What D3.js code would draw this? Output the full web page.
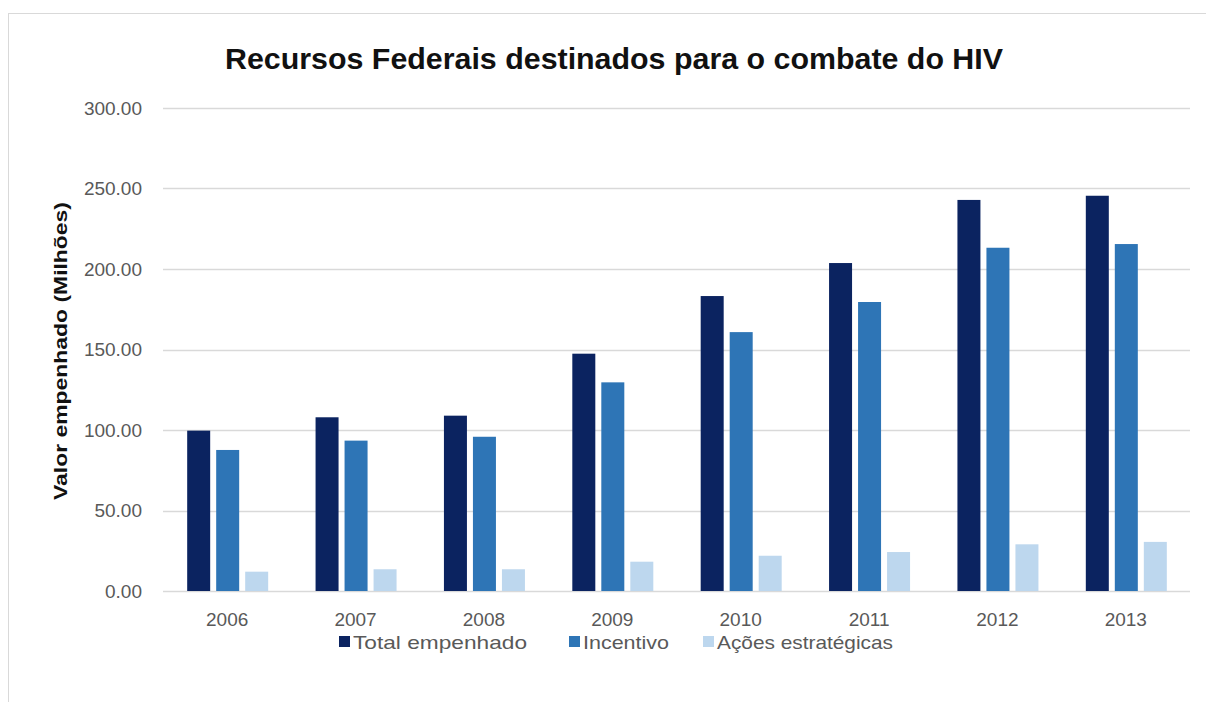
<!DOCTYPE html>
<html>
<head>
<meta charset="utf-8">
<script src="https://cdn.jsdelivr.net/npm/d3@7"></script>
<style>
  body { margin: 0; background: #fff; }
  svg { display: block; font-family: "Liberation Sans", Arial, sans-serif; }
</style>
</head>
<body>
<div id="chart"></div>
<script>
const years = ["2006", "2007", "2008", "2009", "2010", "2011", "2012", "2013"];
const seriesNames = ["Total empenhado", "Incentivo", "Ações estratégicas"];
const totalEmpenhado = [99.6, 107.9, 108.9, 147.4, 183.2, 203.7, 242.9, 245.5];
const incentivo = [87.6, 93.4, 95.8, 129.6, 160.8, 179.5, 213.2, 215.5];
const acoesEstrategicas = [12.0, 13.5, 13.5, 18.2, 21.9, 24.2, 29.0, 30.5];
const yTicks = [0, 50, 100, 150, 200, 250, 300];
const colors = ["#0b2360", "#2e75b6", "#bdd7ee"];

const W = 1206, H = 702;
const margin = {top: 108, right: 16, bottom: 111, left: 163},
      width = W - margin.left - margin.right,
      height = H - margin.top - margin.bottom;

const data = years.map((y, i) => ({
    year: y,
    values: [totalEmpenhado[i], incentivo[i], acoesEstrategicas[i]]
}));

const root = d3.select("#chart")
    .append("svg")
    .attr("width", W)
    .attr("height", H);

// frame of the chart area
root.append("rect")
    .attr("x", 8.5).attr("y", 13.5)
    .attr("width", W).attr("height", H)
    .attr("fill", "none")
    .attr("stroke", "#d9d9d9");

root.append("text")
    .attr("x", 614).attr("y", 69)
    .attr("text-anchor", "middle")
    .attr("font-size", 29)
    .attr("font-weight", "bold")
    .attr("fill", "#111")
    .attr("textLength", 778)
    .attr("lengthAdjust", "spacingAndGlyphs")
    .text("Recursos Federais destinados para o combate do HIV");

root.append("text")
    .attr("transform", "translate(67,351) rotate(-90)")
    .attr("text-anchor", "middle")
    .attr("font-size", 18)
    .attr("font-weight", "bold")
    .attr("fill", "#111")
    .attr("textLength", 298)
    .attr("lengthAdjust", "spacingAndGlyphs")
    .text("Valor empenhado (Milhões)");

const svg = root.append("g")
    .attr("transform", `translate(${margin.left},${margin.top})`);

const x = d3.scaleBand()
    .domain(years)
    .range([0, width]);

const x1 = d3.scaleBand()
    .domain(seriesNames)
    .range([-40, 41])
    .paddingInner(0.207);

const y = d3.scaleLinear()
    .domain([0, 300])
    .range([height, 0]);

// gridlines
svg.append("g")
    .selectAll("line")
    .data(yTicks)
    .join("line")
    .attr("x1", 0)
    .attr("x2", width)
    .attr("y1", d => Math.round(y(d)) + 0.5)
    .attr("y2", d => Math.round(y(d)) + 0.5)
    .attr("stroke", "#d9d9d9")
    .attr("stroke-width", 1.5);

// y axis labels
const yAxis = svg.append("g")
    .call(d3.axisLeft(y).tickValues(yTicks).tickFormat(d3.format(".2f")).tickSize(0).tickPadding(21));
yAxis.select(".domain").remove();
yAxis.selectAll("text")
    .attr("font-family", "Liberation Sans, Arial, sans-serif")
    .attr("font-size", 19)
    .attr("fill", "#595959");

// x axis labels
const xAxis = svg.append("g")
    .attr("transform", `translate(0,${height})`)
    .call(d3.axisBottom(x).tickSize(0).tickPadding(22));
xAxis.select(".domain").remove();
xAxis.selectAll("text")
    .attr("font-family", "Liberation Sans, Arial, sans-serif")
    .attr("font-size", 19)
    .attr("fill", "#595959");

// bars
const groups = svg.append("g")
    .selectAll("g")
    .data(data)
    .join("g")
    .attr("transform", d => `translate(${x(d.year) + x.bandwidth() / 2},0)`);

groups.selectAll("rect")
    .data(d => d.values.map((v, i) => ({key: seriesNames[i], value: v, i})))
    .join("rect")
    .attr("x", d => x1(d.key))
    .attr("y", d => y(d.value))
    .attr("width", x1.bandwidth())
    .attr("height", d => y(0) - y(d.value))
    .attr("fill", d => colors[d.i]);

// legend
const legendX = [339, 569, 703];
const legendLen = [174, 86, 176];
const legend = root.append("g")
    .selectAll("g")
    .data(seriesNames)
    .join("g")
    .attr("transform", (d, i) => `translate(${legendX[i]},642)`);

legend.append("rect")
    .attr("x", 0).attr("y", -6)
    .attr("width", 11).attr("height", 11)
    .attr("fill", (d, i) => colors[i]);

legend.append("text")
    .attr("x", 14).attr("y", 7)
    .attr("font-size", 19)
    .attr("fill", "#595959")
    .attr("textLength", (d, i) => legendLen[i])
    .attr("lengthAdjust", "spacingAndGlyphs")
    .text(d => d);
</script>
</body>
</html>
